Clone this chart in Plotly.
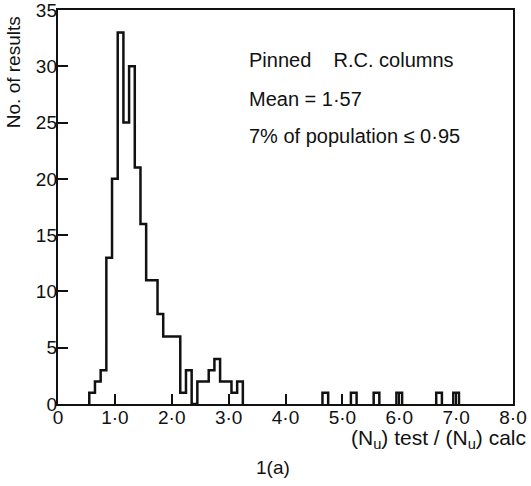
import plotly.graph_objects as go

# ---- data ----
bin_width = 0.1
main_centers = [0.6, 0.7, 0.8, 0.9, 1.0, 1.1, 1.2, 1.3, 1.4, 1.5, 1.6, 1.7, 1.8,
                1.9, 2.0, 2.1, 2.2, 2.3, 2.4, 2.5, 2.6, 2.7, 2.8, 2.9, 3.0, 3.1, 3.2]
main_counts = [1, 2, 3, 13, 20, 33, 25, 30, 21, 16, 11, 11, 8,
               6, 6, 6, 1, 3, 0, 2, 2, 3, 4, 2, 2, 1, 2]
outlier_centers = [4.7, 5.2, 5.6, 6.0, 6.7, 7.0]
outlier_counts = [1, 1, 1, 1, 1, 1]

x_tickvals = [0, 1, 2, 3, 4, 5, 6, 7, 8]
x_ticktext = ["0", "1·0", "2·0", "3·0", "4·0", "5·0", "6·0", "7·0", "8·0"]
y_tickvals = [0, 5, 10, 15, 20, 25, 30, 35]
x_range = [0, 8]
y_range = [0, 35]


def step_path(centers, counts, w):
    xs, ys = [], []
    prev_right = None
    for c, n in zip(centers, counts):
        left, right = round(c - w / 2, 4), round(c + w / 2, 4)
        if prev_right is None or abs(left - prev_right) > 1e-6:
            if prev_right is not None:
                xs += [prev_right, None]
                ys += [0, None]
            xs.append(left)
            ys.append(0)
        xs += [left, right]
        ys += [n, n]
        prev_right = right
    xs.append(prev_right)
    ys.append(0)
    return xs, ys


sx, sy = step_path(main_centers + outlier_centers, main_counts + outlier_counts, bin_width)

fig = go.Figure()
fig.add_trace(go.Scatter(x=sx, y=sy, mode="lines",
                         line=dict(color="#111", width=2.5),
                         connectgaps=False, hoverinfo="skip", showlegend=False))
# empty trace so the label-only overlay axes exist
fig.add_trace(go.Scatter(x=[], y=[], xaxis="x2", yaxis="y2",
                         hoverinfo="skip", showlegend=False))

FONT = "Liberation Sans, Arial, sans-serif"
tick_font = dict(family=FONT, size=19, color="#111")

fig.update_layout(
    width=531, height=486, autosize=False,
    margin=dict(l=58, r=18, t=10, b=82, pad=0, autoexpand=False),
    paper_bgcolor="white", plot_bgcolor="white",
    font=dict(family=FONT, size=19, color="#111"),
    showlegend=False,
    # frame + inside tick marks
    xaxis=dict(range=x_range, tickvals=x_tickvals, showticklabels=False,
               ticks="inside", ticklen=10, tickwidth=1.5, tickcolor="#111",
               showline=True, mirror=True, linewidth=2, linecolor="#111",
               showgrid=False, zeroline=False, fixedrange=True, automargin=False),
    yaxis=dict(range=y_range, tickvals=y_tickvals, showticklabels=False,
               ticks="inside", ticklen=10, tickwidth=1.5, tickcolor="#111",
               showline=True, mirror=True, linewidth=2, linecolor="#111",
               showgrid=False, zeroline=False, fixedrange=True, automargin=False),
    # tick labels only
    xaxis2=dict(range=x_range, tickvals=x_tickvals, ticktext=x_ticktext,
                overlaying="x", anchor="y2", side="bottom", ticks="",
                showline=False, showgrid=False, zeroline=False, fixedrange=True,
                automargin=False, ticklabeloverflow="allow", tickfont=tick_font),
    yaxis2=dict(range=y_range, tickvals=y_tickvals,
                overlaying="y", anchor="x2", side="left", ticks="",
                showline=False, showgrid=False, zeroline=False, fixedrange=True,
                automargin=False, ticklabeloverflow="allow", tickfont=tick_font),
)

ann_font = dict(family=FONT, size=20, color="#111")
fig.add_annotation(text="Pinned    R.C. columns", xref="paper", yref="paper",
                   x=0.415, y=0.873, xanchor="left", yanchor="middle",
                   showarrow=False, font=ann_font)
fig.add_annotation(text="Mean = 1·57", xref="paper", yref="paper",
                   x=0.415, y=0.774, xanchor="left", yanchor="middle",
                   showarrow=False, font=ann_font)
fig.add_annotation(text="7% of population ≤ 0·95", xref="paper", yref="paper",
                   x=0.415, y=0.680, xanchor="left", yanchor="middle",
                   showarrow=False, font=ann_font)
fig.add_annotation(text="No. of results", xref="paper", yref="paper",
                   x=-0.096, y=0.843, xanchor="center", yanchor="middle",
                   textangle=-90, showarrow=False,
                   font=dict(family=FONT, size=19, color="#111"))
fig.add_annotation(text="(N<sub>u</sub>) test / (N<sub>u</sub>) calc",
                   xref="paper", yref="paper",
                   x=1.033, y=-0.09, xanchor="right", yanchor="middle",
                   showarrow=False, font=dict(family=FONT, size=21, color="#111"))
fig.add_annotation(text="1(a)", xref="paper", yref="paper",
                   x=0.472, y=-0.16, xanchor="center", yanchor="middle",
                   showarrow=False, font=dict(family=FONT, size=19, color="#111"))

fig.write_html("out.html", config={"displayModeBar": False},
               post_script="document.body.style.margin='0';")
